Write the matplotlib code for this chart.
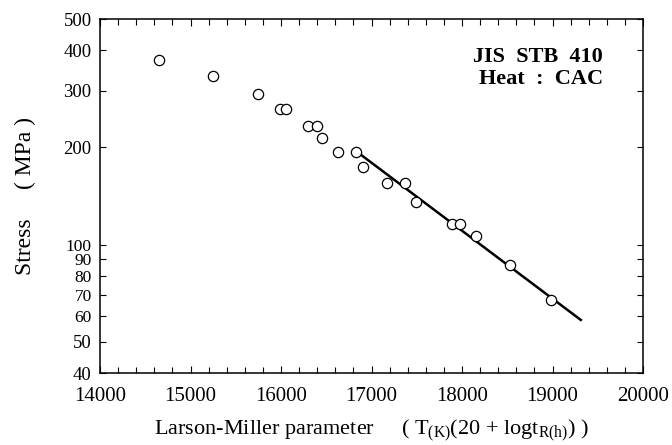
import matplotlib
matplotlib.use("Agg")
import matplotlib.pyplot as plt
from matplotlib.ticker import FixedLocator, MultipleLocator, NullLocator

plt.rcParams['font.family'] = ['Liberation Serif', 'DejaVu Serif']
plt.rcParams['mathtext.fontset'] = 'custom'
plt.rcParams['mathtext.rm'] = 'Liberation Serif'
plt.rcParams['mathtext.it'] = 'Liberation Serif:italic'

# Data (Larson-Miller parameter, stress MPa)
lmp = [14648, 15250, 15748, 15994, 16058, 16297, 16400, 16448, 16633, 16825,
       16909, 17167, 17369, 17496, 17889, 17975, 18155, 18528, 18985]
stress = [373, 333, 293, 263, 263, 233, 233, 214, 194, 194,
          174, 155.6, 155.6, 135.5, 115.8, 115.8, 106, 86.5, 67.2]

# Fitted master line
line_x = [16872, 19313]
line_y = [190.8, 58.4]

x_ticks = [14000, 15000, 16000, 17000, 18000, 19000, 20000]
y_ticks = [40, 50, 60, 70, 80, 90, 100, 200, 300, 400, 500]

fig = plt.figure(figsize=(6.72, 4.45), dpi=100)
ax = fig.add_axes([100/672, 1-373/445, 543/672, 354/445])

ax.plot(lmp, stress, linestyle='none', marker='o', markersize=7.4,
        markerfacecolor='white', markeredgecolor='black', markeredgewidth=0.9, zorder=3)
ax.plot(line_x, line_y, color='black', linewidth=1.8, zorder=2)

ax.set_yscale('log')
ax.set_xlim(14000, 20000)
ax.set_ylim(40, 500)

ax.xaxis.set_major_locator(FixedLocator(x_ticks))
ax.xaxis.set_minor_locator(MultipleLocator(200))
ax.yaxis.set_major_locator(FixedLocator(y_ticks))
ax.yaxis.set_minor_locator(NullLocator())
ax.set_xticklabels([str(v) for v in x_ticks], fontsize=15)
ylabels = ax.set_yticklabels([str(v) for v in y_ticks], fontsize=13.5)
for v, lab in zip(y_ticks, ylabels):
    if 60 <= v <= 100:
        lab.set_fontsize(12.5)

ax.tick_params(axis='both', which='both', direction='in', top=True, right=True, width=0.8)
ax.tick_params(axis='x', which='major', length=5, pad=10)
ax.tick_params(axis='x', which='minor', length=4)
ax.tick_params(axis='y', which='major', length=4, pad=6)
for s in ax.spines.values():
    s.set_linewidth(1.1)

ax.set_xlabel(r"Larson-Miller parameter     ( T$_{\mathregular{(K)}}$(20 + logt$_{\mathregular{R(h)}}$) )",
              fontsize=16, labelpad=8)
ax.set_ylabel("Stress     ( MPa )", fontsize=17, labelpad=20)

ax.text(0.926, 0.862, "JIS  STB  410\nHeat  :  CAC", transform=ax.transAxes,
        ha='right', va='center', fontsize=16, fontweight='bold', linespacing=1.15)

fig.savefig("out.png", dpi=100)
